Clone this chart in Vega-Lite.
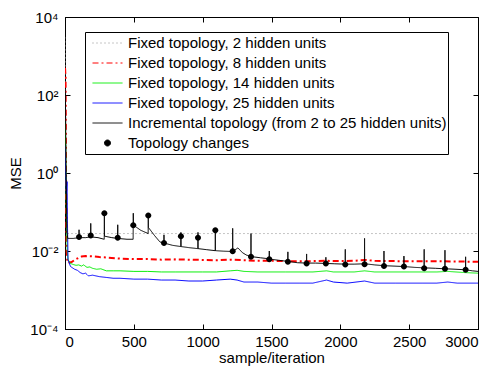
{
  "$schema": "https://vega.github.io/schema/vega-lite/v6.json",
  "width": 413,
  "height": 312,
  "autosize": {"type": "none"},
  "padding": {"left": 65, "top": 17, "right": 15, "bottom": 38},
  "background": "white",
  "datasets": {
    "gray": [{"x":0,"y":3000},{"x":4,"y":800},{"x":8,"y":2},{"x":13,"y":0.04},{"x":20,"y":0.028},{"x":1000,"y":0.028},{"x":2000,"y":0.028},{"x":3000,"y":0.028}],
    "red": [{"x":0,"y":500},{"x":4,"y":300},{"x":8,"y":0.5},{"x":12,"y":0.01},{"x":18,"y":0.005},{"x":48,"y":0.0052},{"x":80,"y":0.0062},{"x":120,"y":0.0072},{"x":150,"y":0.0074},{"x":200,"y":0.0073},{"x":250,"y":0.0070},{"x":300,"y":0.0068},{"x":400,"y":0.0064},{"x":500,"y":0.0062},{"x":600,"y":0.0062},{"x":700,"y":0.006},{"x":800,"y":0.0061},{"x":900,"y":0.006},{"x":1000,"y":0.0059},{"x":1100,"y":0.0058},{"x":1200,"y":0.006},{"x":1300,"y":0.0058},{"x":1400,"y":0.0056},{"x":1500,"y":0.0056},{"x":1600,"y":0.0055},{"x":1700,"y":0.0055},{"x":1800,"y":0.0055},{"x":1900,"y":0.0056},{"x":2000,"y":0.0055},{"x":2100,"y":0.0056},{"x":2176,"y":0.0059},{"x":2250,"y":0.0056},{"x":2400,"y":0.0055},{"x":2600,"y":0.0055},{"x":2800,"y":0.0054},{"x":3000,"y":0.0053}],
    "green": [{"x":0,"y":20},{"x":5,"y":5},{"x":10,"y":0.1},{"x":16,"y":0.01},{"x":22,"y":0.006},{"x":40,"y":0.0048},{"x":60,"y":0.0045},{"x":80,"y":0.0043},{"x":100,"y":0.0044},{"x":120,"y":0.0041},{"x":135,"y":0.0044},{"x":160,"y":0.0038},{"x":180,"y":0.0039},{"x":200,"y":0.0036},{"x":230,"y":0.0034},{"x":260,"y":0.0035},{"x":300,"y":0.0031},{"x":350,"y":0.0031},{"x":400,"y":0.0031},{"x":500,"y":0.003},{"x":600,"y":0.003},{"x":700,"y":0.0029},{"x":800,"y":0.0029},{"x":1000,"y":0.0029},{"x":1100,"y":0.0029},{"x":1200,"y":0.0031},{"x":1250,"y":0.0032},{"x":1300,"y":0.003},{"x":1400,"y":0.0029},{"x":1600,"y":0.0029},{"x":1800,"y":0.0029},{"x":1900,"y":0.0031},{"x":1950,"y":0.0029},{"x":2100,"y":0.0029},{"x":2176,"y":0.0031},{"x":2250,"y":0.0029},{"x":2500,"y":0.0029},{"x":2700,"y":0.0029},{"x":2780,"y":0.003},{"x":2900,"y":0.0028},{"x":3000,"y":0.0027}],
    "blue": [{"x":0,"y":5},{"x":5,"y":1},{"x":10,"y":0.3},{"x":15,"y":0.6},{"x":18,"y":0.05},{"x":22,"y":0.006},{"x":40,"y":0.004},{"x":70,"y":0.0034},{"x":90,"y":0.0032},{"x":110,"y":0.0028},{"x":130,"y":0.0026},{"x":150,"y":0.0027},{"x":170,"y":0.0023},{"x":200,"y":0.0024},{"x":250,"y":0.0022},{"x":300,"y":0.0021},{"x":350,"y":0.002},{"x":400,"y":0.002},{"x":500,"y":0.0019},{"x":600,"y":0.0019},{"x":700,"y":0.0018},{"x":800,"y":0.0018},{"x":900,"y":0.0017},{"x":1000,"y":0.0017},{"x":1100,"y":0.0018},{"x":1200,"y":0.0019},{"x":1250,"y":0.0018},{"x":1300,"y":0.0016},{"x":1400,"y":0.0016},{"x":1500,"y":0.0015},{"x":1600,"y":0.0015},{"x":1700,"y":0.0015},{"x":1800,"y":0.0015},{"x":1900,"y":0.0018},{"x":1950,"y":0.0016},{"x":2050,"y":0.0015},{"x":2176,"y":0.0017},{"x":2250,"y":0.0015},{"x":2400,"y":0.0015},{"x":2600,"y":0.0015},{"x":2700,"y":0.0015},{"x":2780,"y":0.0016},{"x":2850,"y":0.0015},{"x":3000,"y":0.0015}],
    "black": [{"x":0,"y":150},{"x":3,"y":100},{"x":8,"y":1},{"x":14,"y":0.03},{"x":20,"y":0.021},{"x":60,"y":0.021},{"x":101,"y":0.022},{"x":102,"y":0.035},{"x":103,"y":0.022},{"x":150,"y":0.022},{"x":186,"y":0.023},{"x":187,"y":0.051},{"x":188,"y":0.023},{"x":240,"y":0.022},{"x":285,"y":0.02},{"x":286,"y":0.093},{"x":287,"y":0.024},{"x":340,"y":0.022},{"x":382,"y":0.021},{"x":383,"y":0.047},{"x":384,"y":0.021},{"x":450,"y":0.02},{"x":495,"y":0.02},{"x":496,"y":0.093},{"x":497,"y":0.046},{"x":550,"y":0.034},{"x":604,"y":0.028},{"x":605,"y":0.081},{"x":606,"y":0.04},{"x":650,"y":0.025},{"x":690,"y":0.017},{"x":718,"y":0.016},{"x":719,"y":0.026},{"x":720,"y":0.016},{"x":780,"y":0.014},{"x":841,"y":0.013},{"x":842,"y":0.03},{"x":843,"y":0.013},{"x":900,"y":0.0122},{"x":965,"y":0.0115},{"x":966,"y":0.03},{"x":967,"y":0.0115},{"x":1030,"y":0.0108},{"x":1091,"y":0.0102},{"x":1092,"y":0.034},{"x":1093,"y":0.0102},{"x":1150,"y":0.0099},{"x":1217,"y":0.0097},{"x":1218,"y":0.038},{"x":1219,"y":0.0097},{"x":1256,"y":0.012},{"x":1290,"y":0.009},{"x":1320,"y":0.0078},{"x":1350,"y":0.0073},{"x":1351,"y":0.028},{"x":1352,"y":0.0072},{"x":1420,"y":0.0067},{"x":1483,"y":0.0063},{"x":1484,"y":0.010},{"x":1485,"y":0.0062},{"x":1550,"y":0.0058},{"x":1618,"y":0.0054},{"x":1619,"y":0.0095},{"x":1620,"y":0.0054},{"x":1690,"y":0.005},{"x":1754,"y":0.0049},{"x":1755,"y":0.0084},{"x":1756,"y":0.0049},{"x":1820,"y":0.0049},{"x":1894,"y":0.0048},{"x":1895,"y":0.0069},{"x":1896,"y":0.0048},{"x":1960,"y":0.0047},{"x":2035,"y":0.0046},{"x":2036,"y":0.011},{"x":2037,"y":0.0046},{"x":2100,"y":0.0046},{"x":2175,"y":0.0047},{"x":2176,"y":0.021},{"x":2177,"y":0.0047},{"x":2250,"y":0.0044},{"x":2316,"y":0.0042},{"x":2317,"y":0.010},{"x":2318,"y":0.0042},{"x":2390,"y":0.0041},{"x":2461,"y":0.004},{"x":2462,"y":0.0074},{"x":2463,"y":0.004},{"x":2540,"y":0.0038},{"x":2608,"y":0.0037},{"x":2609,"y":0.011},{"x":2610,"y":0.0037},{"x":2690,"y":0.0036},{"x":2759,"y":0.0035},{"x":2760,"y":0.0105},{"x":2761,"y":0.0035},{"x":2840,"y":0.0034},{"x":2909,"y":0.0033},{"x":2910,"y":0.0071},{"x":2911,"y":0.0033},{"x":2960,"y":0.0031},{"x":3000,"y":0.003}],
    "dots": [{"x":102,"y":0.023},{"x":187,"y":0.025},{"x":286,"y":0.093},{"x":383,"y":0.022},{"x":496,"y":0.046},{"x":605,"y":0.081},{"x":719,"y":0.016},{"x":842,"y":0.024},{"x":966,"y":0.022},{"x":1092,"y":0.034},{"x":1218,"y":0.0098},{"x":1351,"y":0.0071},{"x":1484,"y":0.0061},{"x":1619,"y":0.0053},{"x":1755,"y":0.0048},{"x":1895,"y":0.0048},{"x":2036,"y":0.0045},{"x":2176,"y":0.0046},{"x":2317,"y":0.0041},{"x":2462,"y":0.004},{"x":2609,"y":0.0036},{"x":2760,"y":0.0035},{"x":2910,"y":0.0033}]
  },
  "encoding": {
    "x": {"field": "x", "type": "quantitative", "scale": {"domain": [0, 3000], "nice": false}, "axis": null},
    "y": {"field": "y", "type": "quantitative", "scale": {"type": "log", "domain": [0.0001, 10000], "nice": false}, "axis": null}
  },
  "layer": [
    {
      "data": {"name": "gray"},
      "mark": {"type": "line", "opacity": 0},
      "encoding": {
        "x": {"field": "x", "type": "quantitative", "scale": {"domain": [0, 3000], "nice": false}, "axis": {"orient": "top", "values": [0,500,1000,1500,2000,2500,3000], "labels": false, "title": null, "domain": false, "tickSize": -5}},
        "y": {"field": "y", "type": "quantitative", "scale": {"type": "log", "domain": [0.0001, 10000], "nice": false}, "axis": {"orient": "right", "values": [0.0001,0.01,1,100,10000], "labels": false, "title": null, "domain": false, "tickSize": -5}}
      }
    },
    {
      "data": {"name": "gray"},
      "mark": {"type": "line", "strokeWidth": 1, "clip": true},
      "encoding": {
        "x": {"field": "x", "type": "quantitative", "scale": {"domain": [0, 3000], "nice": false}, "axis": {"orient": "bottom", "values": [0,500,1000,1500,2000,2500,3000], "format": "d", "title": "sample/iteration", "titleFontWeight": "normal", "titleFontSize": 15, "labelFontSize": 15, "titlePadding": 1, "tickSize": -5, "labelPadding": 10}},
        "y": {"field": "y", "type": "quantitative", "scale": {"type": "log", "domain": [0.0001, 10000], "nice": false}, "axis": {"orient": "left", "values": [0.0001,0.01,1,100,10000], "title": "MSE", "titleFontWeight": "normal", "titleFontSize": 15, "labelFontSize": 15, "titlePadding": 6, "tickSize": -5, "labelPadding": 12, "labelExpr": "datum.value >= 9999 ? '10⁴' : datum.value >= 99 ? '10²' : datum.value >= 0.99 ? '10⁰' : datum.value >= 0.0099 ? '10⁻²' : '10⁻⁴'"}},
        "color": {
          "datum": "Fixed topology, 2 hidden units",
          "scale": {
            "domain": ["Fixed topology, 2 hidden units", "Fixed topology, 8 hidden units", "Fixed topology, 14 hidden units", "Fixed topology, 25 hidden units", "Incremental topology (from 2 to 25 hidden units)", "Topology changes"],
            "range": ["#8c8c8c", "#ff0000", "#00ee00", "#0000ff", "#000000", "#000000"]
          },
          "legend": {
            "title": null,
            "orient": "none",
            "legendX": 20,
            "legendY": 15,
            "padding": 1,
            "symbolOffset": 6,
            "strokeColor": "black",
            "fillColor": "white",
            "symbolSize": 900,
            "symbolStrokeWidth": 1,
            "symbolFillColor": "black",
            "symbolOpacity": 1,
            "labelFontSize": 15,
            "labelOffset": 5,
            "labelLimit": 500,
            "labelColor": "black",
            "rowPadding": 0,
            "clipHeight": 20
          }
        },
        "strokeDash": {
          "datum": "Fixed topology, 2 hidden units",
          "scale": {
            "domain": ["Fixed topology, 2 hidden units", "Fixed topology, 8 hidden units", "Fixed topology, 14 hidden units", "Fixed topology, 25 hidden units", "Incremental topology (from 2 to 25 hidden units)", "Topology changes"],
            "range": [[1, 3], [6, 3, 2, 3], [1, 0], [1, 0], [1, 0], [1, 0]]
          }
        }
      }
    },
    {
      "data": {"name": "red"},
      "mark": {"type": "line", "strokeWidth": 2, "clip": true},
      "encoding": {"color": {"datum": "Fixed topology, 8 hidden units"}, "strokeDash": {"datum": "Fixed topology, 8 hidden units"}}
    },
    {
      "data": {"name": "green"},
      "mark": {"type": "line", "strokeWidth": 1, "clip": true},
      "encoding": {"color": {"datum": "Fixed topology, 14 hidden units"}, "strokeDash": {"datum": "Fixed topology, 14 hidden units"}}
    },
    {
      "data": {"name": "blue"},
      "mark": {"type": "line", "strokeWidth": 1, "clip": true},
      "encoding": {"color": {"datum": "Fixed topology, 25 hidden units"}, "strokeDash": {"datum": "Fixed topology, 25 hidden units"}}
    },
    {
      "data": {"name": "black"},
      "mark": {"type": "line", "strokeWidth": 1, "clip": true},
      "encoding": {"color": {"datum": "Incremental topology (from 2 to 25 hidden units)"}, "strokeDash": {"datum": "Incremental topology (from 2 to 25 hidden units)"}}
    },
    {
      "data": {"name": "dots"},
      "mark": {"type": "point", "filled": true, "size": 900, "opacity": 1},
      "encoding": {
        "color": {"datum": "Topology changes"},
        "shape": {
          "datum": "Topology changes",
          "scale": {
            "domain": ["Fixed topology, 2 hidden units", "Fixed topology, 8 hidden units", "Fixed topology, 14 hidden units", "Fixed topology, 25 hidden units", "Incremental topology (from 2 to 25 hidden units)", "Topology changes"],
            "range": ["stroke", "stroke", "stroke", "stroke", "stroke", "M-0.2,0A0.2,0.2,0,1,1,0.2,0A0.2,0.2,0,1,1,-0.2,0Z"]
          }
        }
      }
    }
  ],
  "resolve": {"axis": {"x": "independent", "y": "independent"}},
  "config": {
    "font": "Liberation Sans",
    "view": {"stroke": "black", "strokeWidth": 1},
    "axis": {
      "grid": false,
      "domainColor": "black",
      "tickColor": "black",
      "labelColor": "black",
      "titleColor": "black",
      "labelFontSize": 15,
      "titleFontSize": 15,
      "titleFontWeight": "normal"
    }
  }
}
